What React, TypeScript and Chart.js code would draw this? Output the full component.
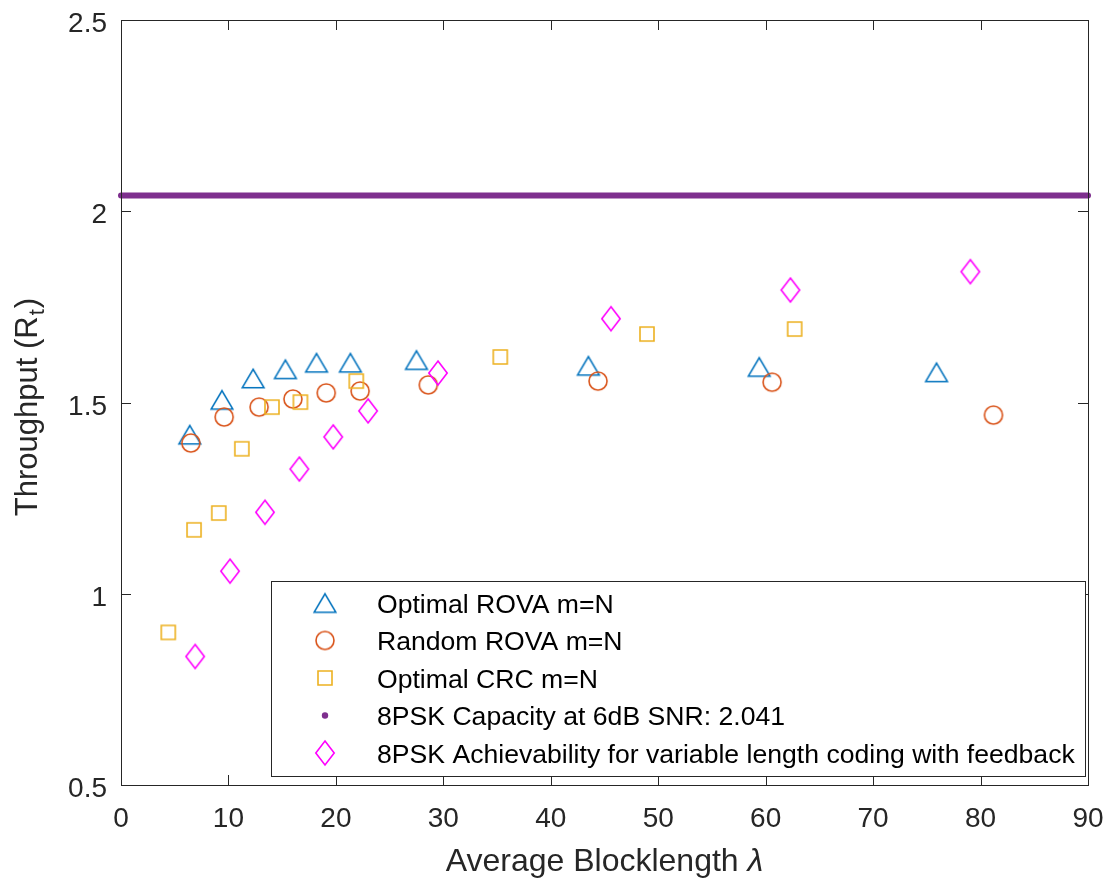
import React, { useEffect, useRef } from 'react';
import { Chart, registerables } from 'chart.js';

Chart.register(...registerables);

// ---- data ----
const xTicks = [0, 10, 20, 30, 40, 50, 60, 70, 80, 90];
const yTicks = [0.5, 1, 1.5, 2, 2.5];
const yTickLabels = ['0.5', '1', '1.5', '2', '2.5'];

const optRovaX = [6.4, 9.4, 12.3, 15.3, 18.2, 21.35, 27.5, 43.5, 59.4, 75.9];
const optRovaY = [1.416, 1.507, 1.563, 1.587, 1.604, 1.604, 1.611, 1.596, 1.593, 1.579];

const randRovaX = [6.5, 9.6, 12.85, 16.0, 19.1, 22.25, 28.6, 44.4, 60.6, 81.2];
const randRovaY = [1.394, 1.462, 1.488, 1.509, 1.525, 1.530, 1.546, 1.556, 1.553, 1.467];

const optCrcX = [4.4, 6.8, 9.1, 11.25, 14.05, 16.7, 21.9, 35.3, 48.95, 62.7];
const optCrcY = [0.899, 1.167, 1.211, 1.379, 1.488, 1.501, 1.556, 1.619, 1.679, 1.692];

const capacityX = [0, 90];
const capacityValue = 2.041;

const achX = [6.9, 10.15, 13.4, 16.6, 19.75, 23.0, 29.5, 45.6, 62.3, 79.05];
const achY = [0.836, 1.059, 1.213, 1.326, 1.41, 1.478, 1.577, 1.719, 1.794, 1.842];

const legendLabels = [
  'Optimal ROVA m=N',
  'Random ROVA m=N',
  'Optimal CRC m=N',
  '8PSK Capacity at 6dB SNR: 2.041',
  '8PSK Achievability for variable length coding with feedback',
];

const xTitle = 'Average Blocklength ';
const yTitle = 'Throughput (R';

const COLORS = {
  blue: '#0072BD',
  orange: '#D95319',
  yellow: '#EDB120',
  purple: '#7E2F8E',
  magenta: '#FF00FF',
};

const FONT = '"Liberation Sans", Arial, Helvetica, sans-serif';

function makeMarker(kind: string, color: string): HTMLCanvasElement {
  const c = document.createElement('canvas');
  let w = 24, h = 24;
  if (kind === 'triangle') { w = 26; h = 23; }
  if (kind === 'circle') { w = 22; h = 22; }
  if (kind === 'square') { w = 18; h = 18; }
  if (kind === 'diamond') { w = 22; h = 28; }
  c.width = w; c.height = h;
  const ctx = c.getContext('2d')!;
  ctx.strokeStyle = color;
  ctx.lineWidth = 1.6;
  ctx.lineJoin = 'miter';
  const cx = w / 2, cy = h / 2;
  ctx.beginPath();
  if (kind === 'triangle') {
    ctx.moveTo(cx, cy - 9.2);
    ctx.lineTo(cx + 10.8, cy + 9.2);
    ctx.lineTo(cx - 10.8, cy + 9.2);
    ctx.closePath();
  } else if (kind === 'circle') {
    ctx.arc(cx, cy, 9, 0, Math.PI * 2);
  } else if (kind === 'square') {
    ctx.rect(cx - 7, cy - 7, 14, 14);
  } else if (kind === 'diamond') {
    ctx.moveTo(cx, cy - 12);
    ctx.lineTo(cx + 9.2, cy);
    ctx.lineTo(cx, cy + 12);
    ctx.lineTo(cx - 9.2, cy);
    ctx.closePath();
  }
  ctx.stroke();
  return c;
}

export default function App() {
  const ref = useRef<HTMLCanvasElement>(null);

  useEffect(() => {
    const canvas = ref.current!;
    const mk = {
      tri: makeMarker('triangle', COLORS.blue),
      circ: makeMarker('circle', COLORS.orange),
      sq: makeMarker('square', COLORS.yellow),
      dia: makeMarker('diamond', COLORS.magenta),
    };
    const pts = (xs: number[], ys: number[]) => xs.map((x, i) => ({ x, y: ys[i] }));

    const decor = {
      id: 'matlabDecor',
      afterDraw(chart: any) {
        const { ctx, chartArea: ca, scales } = chart;
        const xs = scales.x, ys = scales.y;
        ctx.save();
        // axes box
        ctx.strokeStyle = '#262626';
        ctx.lineWidth = 1;
        ctx.strokeRect(Math.round(ca.left) + 0.5, Math.round(ca.top) + 0.5,
          Math.round(ca.right - ca.left), Math.round(ca.bottom - ca.top));
        const tl = 10;
        ctx.beginPath();
        xTicks.forEach((v) => {
          const px = Math.round(xs.getPixelForValue(v)) + 0.5;
          ctx.moveTo(px, ca.bottom); ctx.lineTo(px, ca.bottom - tl);
          ctx.moveTo(px, ca.top); ctx.lineTo(px, ca.top + tl);
        });
        yTicks.forEach((v) => {
          const py = Math.round(ys.getPixelForValue(v)) + 0.5;
          ctx.moveTo(ca.left, py); ctx.lineTo(ca.left + tl, py);
          ctx.moveTo(ca.right, py); ctx.lineTo(ca.right - tl, py);
        });
        ctx.stroke();

        // tick labels
        ctx.fillStyle = '#262626';
        ctx.font = `28px ${FONT}`;
        ctx.textAlign = 'center';
        ctx.textBaseline = 'alphabetic';
        xTicks.forEach((v) => {
          ctx.fillText(String(v), xs.getPixelForValue(v), ca.bottom + 42);
        });
        ctx.textAlign = 'right';
        yTicks.forEach((v, i) => {
          ctx.fillText(yTickLabels[i], ca.left - 14, ys.getPixelForValue(v) + 12);
        });

        // x title
        ctx.font = `32px ${FONT}`;
        ctx.textAlign = 'left';
        const w1 = ctx.measureText(xTitle).width;
        ctx.font = `italic 32px ${FONT}`;
        const w2 = ctx.measureText('λ').width;
        const xc = (ca.left + ca.right) / 2;
        let sx = xc - (w1 + w2) / 2;
        ctx.font = `32px ${FONT}`;
        ctx.fillText(xTitle, sx, ca.bottom + 86);
        ctx.font = `italic 32px ${FONT}`;
        ctx.fillText('λ', sx + w1, ca.bottom + 86);

        // y title
        ctx.save();
        ctx.translate(37, 407);
        ctx.rotate(-Math.PI / 2);
        ctx.font = `31px ${FONT}`;
        const a = ctx.measureText(yTitle).width;
        ctx.font = `22px ${FONT}`;
        const b = ctx.measureText('t').width;
        ctx.font = `31px ${FONT}`;
        const c = ctx.measureText(')').width;
        let s = -(a + b + c + 2) / 2;
        ctx.textAlign = 'left';
        ctx.fillText(yTitle, s, 0);
        ctx.font = `22px ${FONT}`;
        ctx.fillText('t', s + a + 1, 7);
        ctx.font = `31px ${FONT}`;
        ctx.fillText(')', s + a + b + 2, 0);
        ctx.restore();

        // legend
        const lLeft = ca.left + 150;
        const lRight = ca.right - 3;
        const lBottom = ca.bottom - 9;
        const lTop = lBottom - 195;
        ctx.fillStyle = '#ffffff';
        ctx.fillRect(lLeft, lTop, lRight - lLeft, lBottom - lTop);
        ctx.strokeStyle = '#262626';
        ctx.lineWidth = 1;
        ctx.strokeRect(Math.round(lLeft) + 0.5, Math.round(lTop) + 0.5,
          Math.round(lRight - lLeft), Math.round(lBottom - lTop));
        const icons = [mk.tri, mk.circ, mk.sq, null, mk.dia];
        ctx.font = `26.6px ${FONT}`;
        ctx.fillStyle = '#000000';
        ctx.textAlign = 'left';
        legendLabels.forEach((lab, i) => {
          const cy = lTop + 22 + i * 37.5;
          const mx = lLeft + 54;
          const ic = icons[i];
          if (ic) {
            ctx.drawImage(ic, mx - ic.width / 2, cy - ic.height / 2);
          } else {
            ctx.beginPath();
            ctx.fillStyle = COLORS.purple;
            ctx.arc(mx, cy, 3.2, 0, Math.PI * 2);
            ctx.fill();
            ctx.fillStyle = '#000000';
          }
          ctx.fillText(lab, lLeft + 106, cy + 9.5);
        });
        ctx.restore();
      },
    };

    const chart = new Chart(canvas, {
      type: 'scatter',
      data: {
        datasets: [
          {
            label: legendLabels[0],
            data: pts(optRovaX, optRovaY),
            pointStyle: mk.tri as any,
            pointRadius: 10,
            borderColor: COLORS.blue,
            showLine: false,
            order: 5,
          },
          {
            label: legendLabels[1],
            data: pts(randRovaX, randRovaY),
            pointStyle: mk.circ as any,
            pointRadius: 10,
            borderColor: COLORS.orange,
            showLine: false,
            order: 4,
          },
          {
            label: legendLabels[2],
            data: pts(optCrcX, optCrcY),
            pointStyle: mk.sq as any,
            pointRadius: 10,
            borderColor: COLORS.yellow,
            showLine: false,
            order: 3,
          },
          {
            label: legendLabels[3],
            data: capacityX.map((x) => ({ x, y: capacityValue })),
            showLine: true,
            borderColor: COLORS.purple,
            backgroundColor: COLORS.purple,
            borderWidth: 6,
            borderCapStyle: 'round',
            pointRadius: 0,
            clip: false as any,
            order: 2,
          },
          {
            label: legendLabels[4],
            data: pts(achX, achY),
            pointStyle: mk.dia as any,
            pointRadius: 10,
            borderColor: COLORS.magenta,
            showLine: false,
            order: 1,
          },
        ],
      },
      options: {
        responsive: false,
        animation: false,
        layout: { padding: { left: 121, top: 20, right: 20, bottom: 95 } },
        scales: {
          x: { type: 'linear', display: false, min: 0, max: 90 },
          y: { type: 'linear', display: false, min: 0.5, max: 2.5 },
        },
        plugins: {
          legend: { display: false },
          tooltip: { enabled: false },
        },
      },
      plugins: [decor],
    });
    return () => chart.destroy();
  }, []);

  return (
    <canvas
      ref={ref}
      width={1108}
      height={880}
      style={{ position: 'absolute', left: 0, top: 0, width: 1108, height: 880 }}
    />
  );
}
